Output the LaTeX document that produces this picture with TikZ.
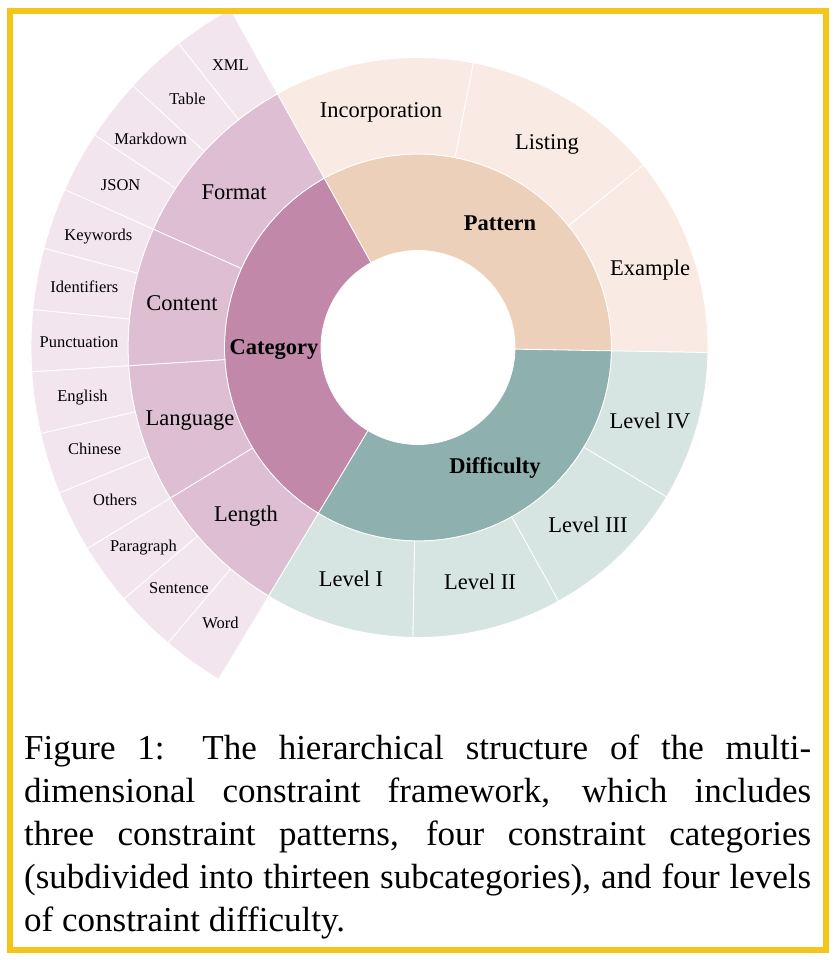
\documentclass[tikz,border=0pt]{standalone}
\usepackage{fontspec}
\setmainfont{Liberation Serif}
\usepackage{tikz}
\usetikzlibrary{calc}

\definecolor{patA}{HTML}{ECD0BA}
\definecolor{patB}{HTML}{F9EBE3}
\definecolor{catA}{HTML}{C188AA}
\definecolor{catB}{HTML}{DDBED3}
\definecolor{catC}{HTML}{F3E5ED}
\definecolor{difA}{HTML}{8EB0AF}
\definecolor{difB}{HTML}{D6E5E2}
\definecolor{goldframe}{HTML}{F6C51C}

\tikzset{
  seam/.style={draw=white,line width=0.8pt},
  toplabel/.style={font=\fontsize{22.5}{27}\selectfont\bfseries,inner sep=0pt,text height=15pt,text depth=0pt},
  midlabel/.style={font=\fontsize{22.5}{27}\selectfont,inner sep=0pt,text height=15pt,text depth=0pt},
  leaflabel/.style={font=\fontsize{16.5}{20}\selectfont,inner sep=0pt,text height=11pt,text depth=0pt},
  captext/.style={font=\fontsize{35}{43}\selectfont,inner sep=0pt,text width=787pt,align=justify,anchor=north west}
}

% start angle, end angle, inner radius, outer radius, colour
\newcommand{\sector}[5]{%
  \filldraw[fill=#5,seam] (#1:#3) arc[start angle=#1,end angle=#2,radius=#3]
    -- (#2:#4) arc[start angle=#2,end angle=#1,radius=#4] -- cycle;}

\begin{document}
\begin{tikzpicture}[x=1pt,y=1pt]
\useasboundingbox (0,0) rectangle (836,960);

\begin{scope}[shift={(418,612.5)}]
% first ring
\sector{-1}{119}{97}{193.5}{patA}
\sector{119}{239}{97}{193.5}{catA}
\sector{239}{359}{97}{193.5}{difA}
% second ring
\sector{-1}{39}{193.5}{290}{patB}
\sector{39}{79}{193.5}{290}{patB}
\sector{79}{119}{193.5}{290}{patB}
\sector{119}{155.92}{193.5}{290}{catB}
\sector{155.92}{183.62}{193.5}{290}{catB}
\sector{183.62}{211.31}{193.5}{290}{catB}
\sector{211.31}{239}{193.5}{290}{catB}
\sector{239}{269}{193.5}{290}{difB}
\sector{269}{299}{193.5}{290}{difB}
\sector{299}{329}{193.5}{290}{difB}
\sector{329}{359}{193.5}{290}{difB}
% third ring, subcategories
\foreach \name [count=\i from 0] in {XML,Table,Markdown,JSON,Keywords,Identifiers,Punctuation,English,Chinese,Others,Paragraph,Sentence,Word}{
  \pgfmathsetmacro\a{119+\i*120/13}
  \pgfmathsetmacro\b{119+(\i+1)*120/13}
  \pgfmathsetmacro\m{(\a+\b)/2}
  \sector{\a}{\b}{290}{387}{catC}
  \node[leaflabel] (leaf\i) at (\m:339) {\name};
}
% labels
\node[toplabel] (pattern) at (82,124) {Pattern};
\node[toplabel] (category) at (-144,0) {Category};
\node[toplabel] (difficulty) at (77,-119) {Difficulty};
\node[midlabel] (incorp) at (-37,237) {Incorporation};
\node[midlabel] (listing) at (129,205) {Listing};
\node[midlabel] (example) at (232,79) {Example};
\node[midlabel] (format) at (-184,155) {Format};
\node[midlabel] (content) at (-236,44) {Content};
\node[midlabel] (language) at (-228,-71) {Language};
\node[midlabel] (length) at (-172,-167) {Length};
\node[midlabel] (lvone) at (-67,-232) {Level I};
\node[midlabel] (lvtwo) at (62,-235) {Level II};
\node[midlabel] (lvthree) at (170,-178) {Level III};
\node[midlabel] (lvfour) at (232,-74) {Level IV};
\end{scope}

\node[captext] (cap) at (24,225) {Figure 1: The hierarchical structure of the multi-\linebreak
dimensional constraint framework, which includes\linebreak
three constraint patterns, four constraint categories\linebreak
(subdivided into thirteen subcategories), and four levels\linebreak
of constraint difficulty.};

% frame on top
\draw[goldframe,line width=5.5pt] (10,10) rectangle (826,949);
\end{tikzpicture}
\end{document}
